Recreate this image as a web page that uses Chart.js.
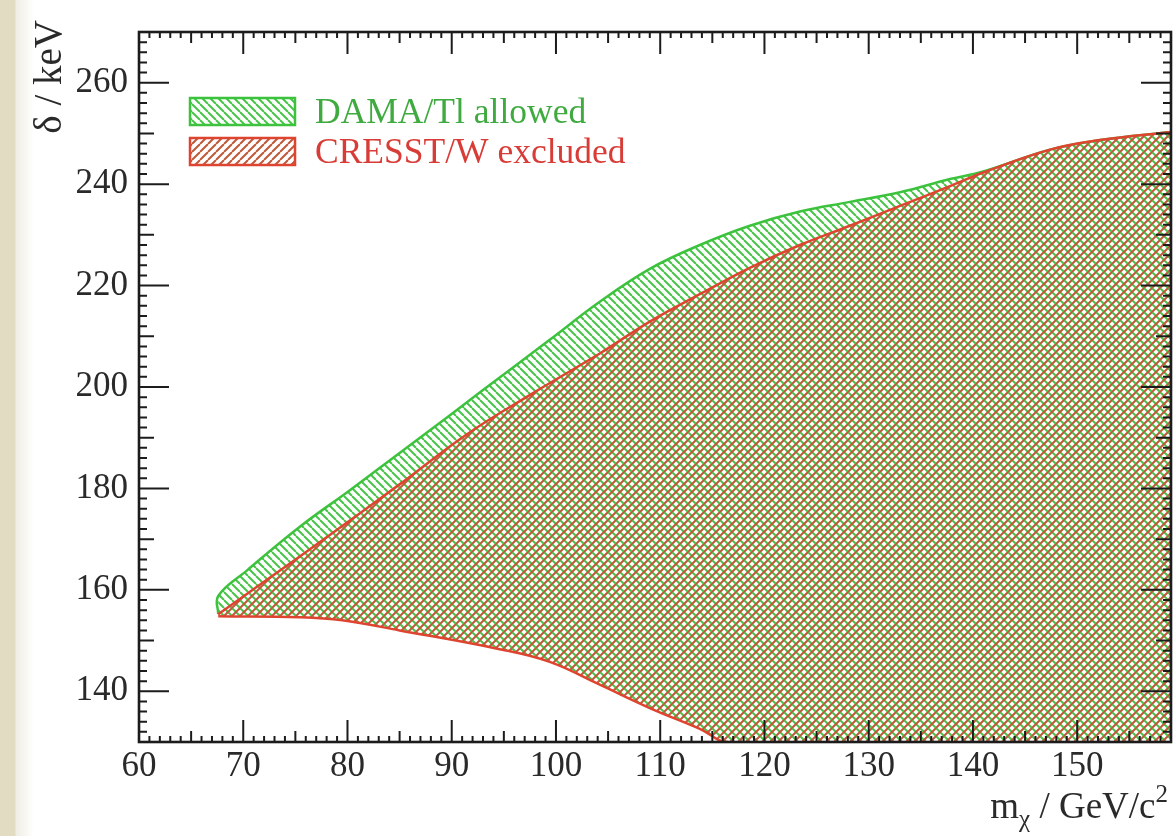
<!DOCTYPE html>
<html lang="en">
<head>
<meta charset="UTF-8">
<title>DAMA/Tl allowed vs CRESST/W excluded</title>
<script src="https://cdn.jsdelivr.net/npm/chart.js"></script>
<style>
  html, body { margin: 0; padding: 0; }
  body {
    width: 1173px;
    height: 836px;
    overflow: hidden;
    background: linear-gradient(to right, #e2dcc2 0, #e2dcc2 15px, #efede4 16px, #ffffff 34px);
  }
  canvas { display: block; }
</style>
</head>
<body>
<canvas id="deltaChart" width="1173" height="836"></canvas>
<script>
// axis ranges: WIMP mass (GeV/c^2) and mass splitting delta (keV)
const X_MIN = 60, X_MAX = 159;
const Y_MIN = 130, Y_MAX = 270;
const xTicks = [60, 70, 80, 90, 100, 110, 120, 130, 140, 150];
const yTicks = [140, 160, 180, 200, 220, 240, 260];

// upper edge of the DAMA/Tl allowed band
const damaX = [67.6, 67.6, 70.4, 75.4, 80.2, 85, 89.8, 93, 99.4, 104.2, 109, 113.8, 118.6, 123.4, 128.2, 133, 137.8, 141, 147.4, 152.2, 159];
const damaY = [155.2, 158.8, 163.9, 172.4, 179.6, 187.0, 194.4, 199.4, 209.3, 216.8, 223.3, 228, 231.8, 234.6, 236.5, 238.4, 241, 242.5, 246.8, 248.7, 250.3];

// upper edge of the CRESST/W excluded region
const cresstX = [67.6, 72.2, 78.5, 85, 91.4, 97.8, 104.2, 109, 113.8, 118.6, 123.4, 128.2, 133, 137.8, 141, 147.4, 152.2, 159];
const cresstY = [155.2, 161.9, 171.1, 180.8, 190.6, 198.8, 206.6, 212.9, 218.3, 223.5, 228, 231.8, 235.7, 239.6, 242.3, 246.8, 248.7, 250.3];

// common lower edge (runs along the bottom of the frame past ~117 GeV)
const lowerX = [67.6, 75.4, 79.5, 85, 94.6, 99.4, 104.2, 109, 113.8, 116.5, 159];
const lowerY = [154.8, 154.6, 154, 152, 148.3, 145.8, 141.3, 136.7, 132.6, 130, 130];

const GREEN = '#3cc23c';
const RED = '#de4430';
const TEXT = '#2a2a2a';
const SERIF = '"Liberation Serif", "DejaVu Serif", serif';

function toPoints(xs, ys) {
  return xs.map((x, i) => ({ x: x, y: ys[i] }));
}

// ROOT-like hatch tiles: '\\' for DAMA, '//' for CRESST
function makeHatch(color, backslash, width) {
  const p = 8;
  const tile = document.createElement('canvas');
  tile.width = p;
  tile.height = p;
  const t = tile.getContext('2d');
  t.strokeStyle = color;
  t.lineWidth = width;
  t.beginPath();
  for (let k = -1; k <= 1; k++) {
    const x0 = k * p;
    if (backslash) {
      t.moveTo(x0, 0);
      t.lineTo(x0 + p, p);
    } else {
      t.moveTo(x0 + p, 0);
      t.lineTo(x0, p);
    }
  }
  t.stroke();
  return t.createPattern(tile, 'repeat');
}

const greenHatch = makeHatch('#48c448', true, 2.0);
const redHatch = makeHatch('#c0583a', false, 2.0);

const legendEntries = [
  { text: 'DAMA/Tl allowed', color: GREEN, textColor: '#3faa3f', pattern: greenHatch },
  { text: 'CRESST/W excluded', color: RED, textColor: '#d83c36', pattern: redHatch }
];

// inward major/minor ticks on all four sides plus the frame
const frameTicks = {
  id: 'frameTicks',
  afterDatasetsDraw(chart) {
    const { ctx, chartArea: a, scales: { x, y } } = chart;
    ctx.save();
    ctx.strokeStyle = '#1c1c1c';
    ctx.lineWidth = 2;
    ctx.beginPath();
    for (let v = X_MIN; v <= X_MAX; v += 1) {
      const len = v % 10 === 0 ? 22 : (v % 5 === 0 ? 11 : 6);
      const px = x.getPixelForValue(v);
      ctx.moveTo(px, a.bottom);
      ctx.lineTo(px, a.bottom - len);
      ctx.moveTo(px, a.top);
      ctx.lineTo(px, a.top + len);
    }
    for (let v = Y_MIN; v <= Y_MAX; v += 2) {
      const len = v % 20 === 0 ? 30 : (v % 10 === 0 ? 15 : 8);
      const py = y.getPixelForValue(v);
      ctx.moveTo(a.left, py);
      ctx.lineTo(a.left + len, py);
      ctx.moveTo(a.right, py);
      ctx.lineTo(a.right - len, py);
    }
    ctx.stroke();
    ctx.lineWidth = 2.6;
    ctx.strokeRect(a.left, a.top, a.right - a.left, a.bottom - a.top);
    ctx.restore();
  }
};

// hatched legend boxes inside the frame
const hatchLegend = {
  id: 'hatchLegend',
  afterDraw(chart) {
    const ctx = chart.ctx;
    ctx.save();
    ctx.font = '35.5px ' + SERIF;
    ctx.textBaseline = 'alphabetic';
    legendEntries.forEach((e, i) => {
      const top = 98 + i * 40;
      ctx.fillStyle = e.pattern;
      ctx.fillRect(190, top, 105, 27);
      ctx.strokeStyle = e.color;
      ctx.lineWidth = 2.5;
      ctx.strokeRect(190, top, 105, 27);
      ctx.fillStyle = e.textColor;
      ctx.fillText(e.text, 315, top + 25);
    });
    ctx.restore();
  }
};

// axis titles at the far ends of the axes
const axisTitles = {
  id: 'axisTitles',
  afterDraw(chart) {
    const ctx = chart.ctx;
    const big = '37px ' + SERIF;
    const small = '25px ' + SERIF;
    ctx.save();
    ctx.fillStyle = TEXT;

    ctx.save();
    ctx.translate(61, 20);
    ctx.rotate(-Math.PI / 2);
    ctx.font = '39px ' + SERIF;
    ctx.textAlign = 'right';
    ctx.textBaseline = 'alphabetic';
    ctx.fillText('\u03b4 / keV', 0, 0);
    ctx.restore();

    const parts = [
      { t: 'm', f: big, dy: 0 },
      { t: '\u03c7', f: small, dy: 9 },
      { t: ' / GeV/c', f: big, dy: 0 },
      { t: '2', f: small, dy: -16 }
    ];
    let w = 0;
    parts.forEach(p => { ctx.font = p.f; w += ctx.measureText(p.t).width; });
    let px = 1168 - w;
    const base = 818;
    ctx.textBaseline = 'alphabetic';
    parts.forEach(p => {
      ctx.font = p.f;
      ctx.fillText(p.t, px, base + p.dy);
      px += ctx.measureText(p.t).width;
    });
    ctx.restore();
  }
};

const ctx = document.getElementById('deltaChart').getContext('2d');
new Chart(ctx, {
  type: 'line',
  data: {
    datasets: [
      {
        label: 'CRESST/W excluded',
        data: toPoints(cresstX, cresstY),
        borderColor: RED,
        borderWidth: 2.5,
        backgroundColor: redHatch,
        fill: 2,
        pointRadius: 0,
        tension: 0.4
      },
      {
        label: 'DAMA/Tl allowed',
        data: toPoints(damaX, damaY),
        borderColor: GREEN,
        borderWidth: 2.5,
        backgroundColor: greenHatch,
        fill: 2,
        pointRadius: 0,
        tension: 0.4
      },
      {
        label: 'lower edge',
        data: toPoints(lowerX, lowerY),
        borderColor: RED,
        borderWidth: 2.5,
        fill: false,
        pointRadius: 0,
        tension: 0.4,
        order: -1,
        segment: {
          borderColor: c => (c.p0.parsed.y <= Y_MIN && c.p1.parsed.y <= Y_MIN) ? 'rgba(0,0,0,0)' : undefined
        }
      }
    ]
  },
  options: {
    responsive: false,
    devicePixelRatio: 1,
    animation: false,
    layout: { padding: { top: 22, right: 2, left: 0, bottom: 0 } },
    plugins: {
      legend: { display: false },
      tooltip: { enabled: false }
    },
    scales: {
      x: {
        type: 'linear',
        min: X_MIN,
        max: X_MAX,
        afterBuildTicks: s => { s.ticks = xTicks.map(v => ({ value: v })); },
        afterFit: s => { s.height = 94; },
        grid: { display: false, drawTicks: false },
        border: { display: false },
        ticks: {
          padding: 4,
          color: TEXT,
          font: { family: SERIF, size: 35 },
          maxRotation: 0,
          autoSkip: false
        }
      },
      y: {
        type: 'linear',
        min: Y_MIN,
        max: Y_MAX,
        afterBuildTicks: s => { s.ticks = yTicks.map(v => ({ value: v })); },
        afterFit: s => { s.width = 139; },
        grid: { display: false, drawTicks: false },
        border: { display: false },
        ticks: {
          padding: 11,
          color: TEXT,
          font: { family: SERIF, size: 35 },
          autoSkip: false
        }
      }
    }
  },
  plugins: [frameTicks, hatchLegend, axisTitles]
});
</script>
</body>
</html>
